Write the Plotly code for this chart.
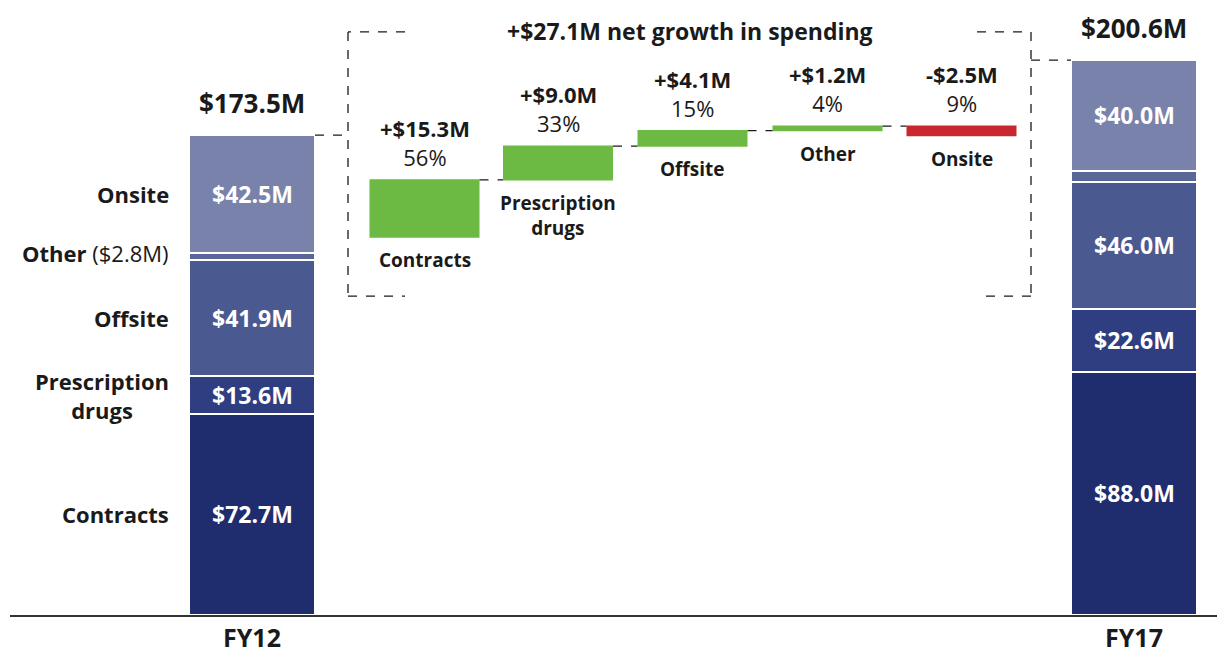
import plotly.graph_objects as go

# ---- data -------------------------------------------------------------
years = ["FY12", "FY17"]
categories = ["Contracts", "Prescription drugs", "Offsite", "Other", "Onsite"]
fy12 = [72.7, 13.6, 41.9, 2.8, 42.5]
fy17 = [88.0, 22.6, 46.0, 4.0, 40.0]
change = [15.3, 9.0, 4.1, 1.2, -2.5]

# ---- styling / layout constants --------------------------------------
FONT = "Open Sans"
W, H = 1217, 654
seg_colors = ["#1f2c6d", "#2f3e80", "#4b5991", "#5a6698", "#7882aa"]
GREEN, RED = "#6cb943", "#c8282d"
DARK = "#1a1a1a"

x_fy12, x_fy17 = 252, 1134
wf_x = [424.5, 558, 692.5, 827.5, 961.5]
stack_w, wf_w = 126, 110

total12 = round(sum(fy12), 1)
total17 = round(sum(fy17), 1)
net = round(sum(change), 1)

# primary y (stacked bars) and secondary y (bridge) ranges
Y_MAX = 222.34
Y2_MIN, Y2_MAX = 72.81, 236.73

fig = go.Figure()

# stacked totals for each fiscal year
for i, cat in enumerate(categories):
    fig.add_trace(go.Bar(
        x=[x_fy12, x_fy17], y=[fy12[i], fy17[i]], width=stack_w,
        name=cat, marker=dict(color=seg_colors[i], line=dict(color="white", width=2)),
        hoverinfo="skip", showlegend=False,
    ))

# bridge of changes between the two years
fig.add_trace(go.Waterfall(
    x=wf_x, y=change, base=total12, width=wf_w, measure=["relative"] * len(change),
    yaxis="y2", hoverinfo="skip", showlegend=False, textinfo="none",
    increasing=dict(marker=dict(color=GREEN)),
    decreasing=dict(marker=dict(color=RED)),
    connector=dict(mode="between", line=dict(color=DARK, width=1.2, dash="dash")),
))

ann = []

def fmt(v):
    return f"${v:.1f}M"

# segment values inside the stacks and category names on the left
for xs, vals in ((x_fy12, fy12), (x_fy17, fy17)):
    cum = 0.0
    for i, v in enumerate(vals):
        mid = cum + v / 2
        cum += v
        if categories[i] != "Other":
            ann.append(dict(x=xs, y=mid, text=f"<b>{fmt(v)}</b>", showarrow=False,
                            font=dict(family=FONT, size=23, color="white")))
        if xs == x_fy12:
            if categories[i] == "Other":
                label = f"<b>Other</b> ({fmt(v)})"
                ysh = 4
            else:
                label = "<b>" + categories[i].replace(" ", "<br>") + "</b>"
                ysh = 0
            ann.append(dict(x=x_fy12 - stack_w / 2 - 18, y=mid, text=label, showarrow=False,
                            xanchor="right", yshift=ysh,
                            font=dict(family=FONT, size=22, color=DARK)))

# totals above the stacks
for xs, tot in ((x_fy12, total12), (x_fy17, total17)):
    ann.append(dict(x=xs, y=tot, text=f"<b>{fmt(tot)}</b>", showarrow=False,
                    yanchor="bottom", yshift=12,
                    font=dict(family=FONT, size=26, color=DARK)))

# change labels above / category names below each bridge bar
level = total12
for i, d in enumerate(change):
    lo, hi = min(level, level + d), max(level, level + d)
    level += d
    sign = "+" if d > 0 else "-"
    pct = round(abs(d) / net * 100)
    ann.append(dict(x=wf_x[i], y=hi, yref="y2", showarrow=False, yanchor="bottom", yshift=6,
                    text=f"<b>{sign}${abs(d):.1f}M</b><br>{pct}%",
                    font=dict(family=FONT, size=22, color=DARK)))
    ann.append(dict(x=wf_x[i], y=lo, yref="y2", showarrow=False, yanchor="top", yshift=-8,
                    text="<b>" + categories[i].replace(" ", "<br>") + "</b>",
                    font=dict(family=FONT, size=19, color=DARK)))

# headline over the bridge
ann.append(dict(x=690, y=0.95, yref="paper", showarrow=False, yanchor="middle",
                text=f"<b>+${net:.1f}M net growth in spending</b>",
                font=dict(family=FONT, size=23, color=DARK)))

# dashed brackets framing the bridge
BR_TOP, BR_BOT = 210.8, 115.3
BL, BLT, BR, BRT = 348, 405, 1031, 977
dash = dict(color=DARK, width=1.3, dash="dash")
shapes = [
    dict(type="line", x0=BLT, x1=BL, y0=BR_TOP, y1=BR_TOP, line=dash),
    dict(type="line", x0=BL, x1=BL, y0=BR_TOP, y1=BR_BOT, line=dash),
    dict(type="line", x0=BL, x1=BLT, y0=BR_BOT, y1=BR_BOT, line=dash),
    dict(type="line", x0=x_fy12 + stack_w / 2, x1=BL, y0=total12, y1=total12, line=dash),
    dict(type="line", x0=BRT, x1=BR, y0=BR_TOP, y1=BR_TOP, line=dash),
    dict(type="line", x0=BR, x1=BR, y0=BR_TOP, y1=BR_BOT, line=dash),
    dict(type="line", x0=BR, x1=BRT, y0=BR_BOT, y1=BR_BOT, line=dash),
    dict(type="line", x0=BR, x1=x_fy17 - stack_w / 2, y0=total17, y1=total17, line=dash),
]
for s in shapes:
    s.update(xref="x", yref="y")

fig.update_layout(
    width=W, height=H, barmode="stack",
    margin=dict(l=10, r=0, t=0, b=37),
    paper_bgcolor="white", plot_bgcolor="white",
    xaxis=dict(range=[10, W], tickvals=[x_fy12, x_fy17], ticktext=[f"<b>{y}</b>" for y in years],
               tickfont=dict(family=FONT, size=25, color=DARK), showgrid=False, zeroline=False,
               showline=True, linecolor="#333333", linewidth=2, ticks="", fixedrange=True),
    yaxis=dict(range=[0, Y_MAX], visible=False, showgrid=False, fixedrange=True),
    yaxis2=dict(range=[Y2_MIN, Y2_MAX], overlaying="y", visible=False, showgrid=False,
                fixedrange=True),
    annotations=ann, shapes=shapes,
    font=dict(family=FONT),
)

fig.write_html("out.html", config={"displayModeBar": False})
